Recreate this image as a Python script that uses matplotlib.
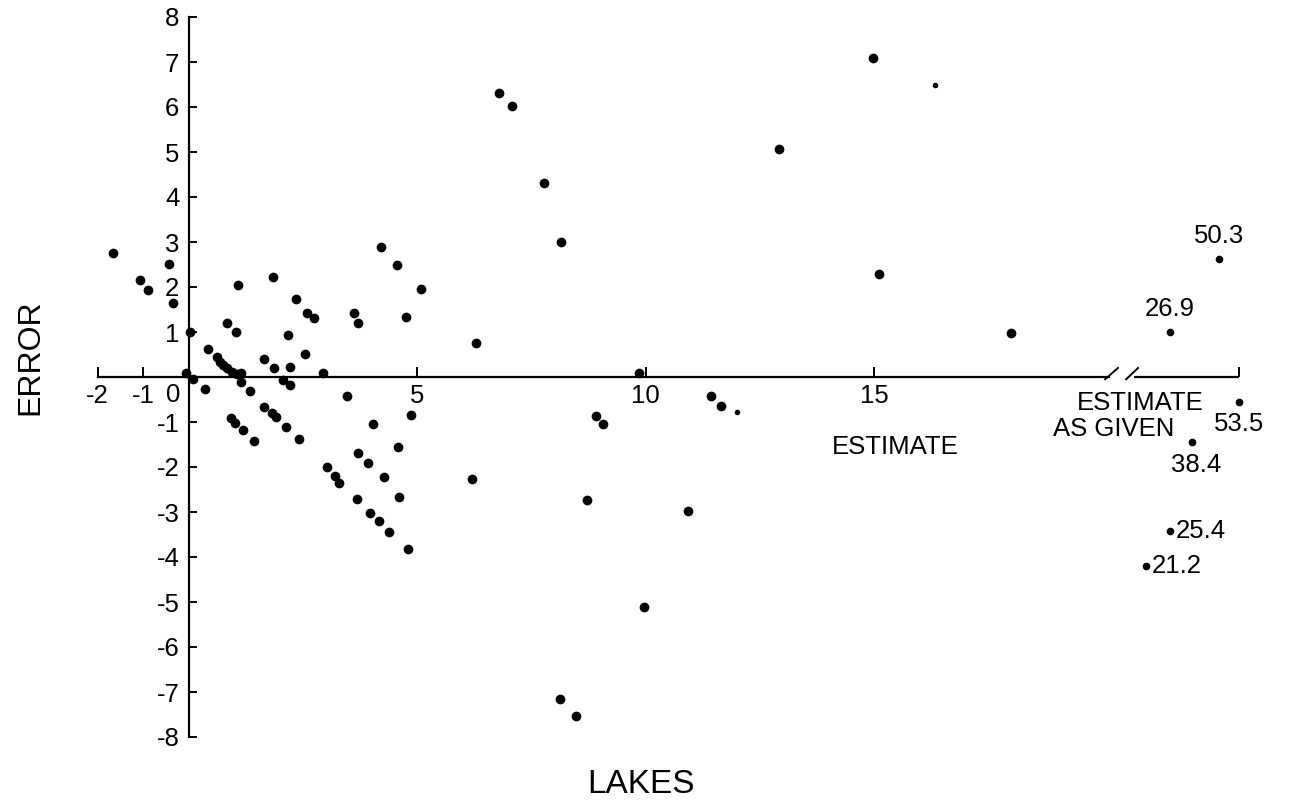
import numpy as np
import matplotlib.pyplot as plt

plt.rcParams['font.family'] = ['Liberation Sans', 'DejaVu Sans']

# =========================
# DATA (estimate, error) per lake
# =========================
est = [-1.66, -1.07, -0.90, -0.44, -0.35, 0.02, -0.07, 0.09, 0.35, 0.42,
       0.61, 0.68, 0.74, 0.83, 0.94, 1.05, 1.14, 1.14, 1.34, 0.83,
       1.03, 1.07, 1.84, 2.34, 2.58, 2.74, 2.17, 1.64, 1.86, 2.21,
       2.54, 2.93, 2.06, 2.21, 0.92, 1.01, 1.18, 1.42, 1.64, 1.82,
       1.91, 2.12, 2.41, 3.46, 3.61, 3.70, 4.20, 4.55, 5.08, 4.75,
       4.03, 4.86, 4.58, 3.70, 3.92, 3.02, 3.20, 3.28, 4.27, 3.68,
       4.60, 3.96, 4.16, 4.38, 4.80, 6.28, 6.20, 6.79, 7.07, 7.77,
       8.15, 8.91, 9.07, 8.71, 9.96, 8.12, 8.47, 9.85, 11.43, 11.65,
       10.93, 12.92, 14.98, 15.11, 18.00]
err = [2.76, 2.16, 1.93, 2.51, 1.64, 1.00, 0.09, -0.04, -0.27, 0.62,
       0.44, 0.33, 0.27, 0.20, 0.11, 0.07, 0.09, -0.11, -0.31, 1.20,
       1.00, 2.04, 2.22, 1.73, 1.42, 1.31, 0.93, 0.40, 0.20, 0.22,
       0.51, 0.09, -0.07, -0.18, -0.91, -1.02, -1.18, -1.42, -0.67, -0.80,
       -0.89, -1.11, -1.38, -0.42, 1.42, 1.20, 2.89, 2.49, 1.96, 1.33,
       -1.04, -0.84, -1.56, -1.69, -1.91, -2.00, -2.20, -2.36, -2.22, -2.71,
       -2.67, -3.02, -3.20, -3.44, -3.82, 0.76, -2.27, 6.31, 6.02, 4.31,
       3.00, -0.87, -1.05, -2.73, -5.11, -7.16, -7.53, 0.09, -0.42, -0.64,
       -2.98, 5.07, 7.09, 2.29, 0.98]

# faint / small dots
est_small = [12.00, 16.33]
err_small = [-0.78, 6.49]

# off-scale estimates, drawn past the axis break
big_est = [21.2, 25.4, 26.9, 38.4, 50.3, 53.5]
big_err = [-4.20, -3.43, 1.00, -1.44, 2.62, -0.56]
big_pos = [20.96, 21.48, 21.48, 21.96, 22.55, 23.00]   # where they sit on the broken axis

xtick_vals = [-2, -1, 5, 10, 15]
ytick_vals = list(range(-8, 9))

FS = 18.5

# =========================
# FIGURE
# =========================
fig = plt.figure(figsize=(12.91, 8.07), dpi=100)
ax = fig.add_axes([0, 0, 1, 1])

px_x = 45.67   # pixels per unit
px_y = 45.0
ax.set_xlim(-189 / px_x, (1291 - 189) / px_x)
ax.set_ylim((377 - 807) / px_y, 377 / px_y)

for s in ['top', 'right']:
    ax.spines[s].set_visible(False)
ax.spines['left'].set_position(('data', 0))
ax.spines['bottom'].set_position(('data', 0))
ax.spines['left'].set_bounds(-8, 8)
ax.spines['bottom'].set_bounds(-2, 20.15)
ax.spines['left'].set_linewidth(1.6)
ax.spines['bottom'].set_linewidth(1.6)

# y zero is labelled once, under the x axis
ax.set_yticks(ytick_vals)
ax.set_yticklabels([str(v) if v != 0 else '' for v in ytick_vals])
ax.set_xticks(xtick_vals + [23])
ax.set_xticklabels([str(v) for v in xtick_vals] + [''])
ax.tick_params(axis='y', direction='in', length=6, width=1.4, pad=7, labelsize=FS)
ax.tick_params(axis='x', direction='in', length=7, width=1.4, pad=5, labelsize=FS)
ax.text(-0.35, -0.14, '0', fontsize=FS, ha='center', va='top')

# broken part of the x axis
ax.plot([20.7, 23.0], [0, 0], color='black', lw=1.6, solid_capstyle='butt')
ax.plot([20.06, 20.34], [-0.05, 0.2], color='black', lw=1.4)
ax.plot([20.52, 20.78], [-0.05, 0.2], color='black', lw=1.4)

# =========================
# POINTS
# =========================
ax.plot(est, err, 'o', color='black', ms=7, mec='none')
ax.plot(est_small, err_small, 'o', color='black', ms=4, mec='none')
ax.plot(big_pos, big_err, 'o', color='black', ms=5.5, mec='none')

# labels of the off-scale estimates
for x, y, v in zip(big_pos, big_err, big_est):
    lab = f"{v:.1f}"
    if y > 0:
        ax.text(x, y + 0.25, lab, fontsize=FS, ha='center', va='bottom')
    elif v > 50:
        ax.text(x, y - 0.22, lab, fontsize=FS, ha='center', va='top')
    elif v > 30:
        ax.text(x + 0.1, y - 0.25, lab, fontsize=FS, ha='center', va='top')
    else:
        ax.text(x + 0.12, y, lab, fontsize=FS, ha='left', va='center')

ax.text(20.82, -0.58, 'ESTIMATE', fontsize=FS, ha='center', va='center')
ax.text(20.25, -1.16, 'AS GIVEN', fontsize=FS, ha='center', va='center')
ax.text(15.46, -1.55, 'ESTIMATE', fontsize=FS, ha='center', va='center')

ax.text(-3.48, 0.44, 'ERROR', fontsize=23, rotation=90, ha='center', va='center')
ax.text(9.9, -9.05, 'LAKES', fontsize=24, ha='center', va='center')

fig.savefig('out.png', dpi=100)
